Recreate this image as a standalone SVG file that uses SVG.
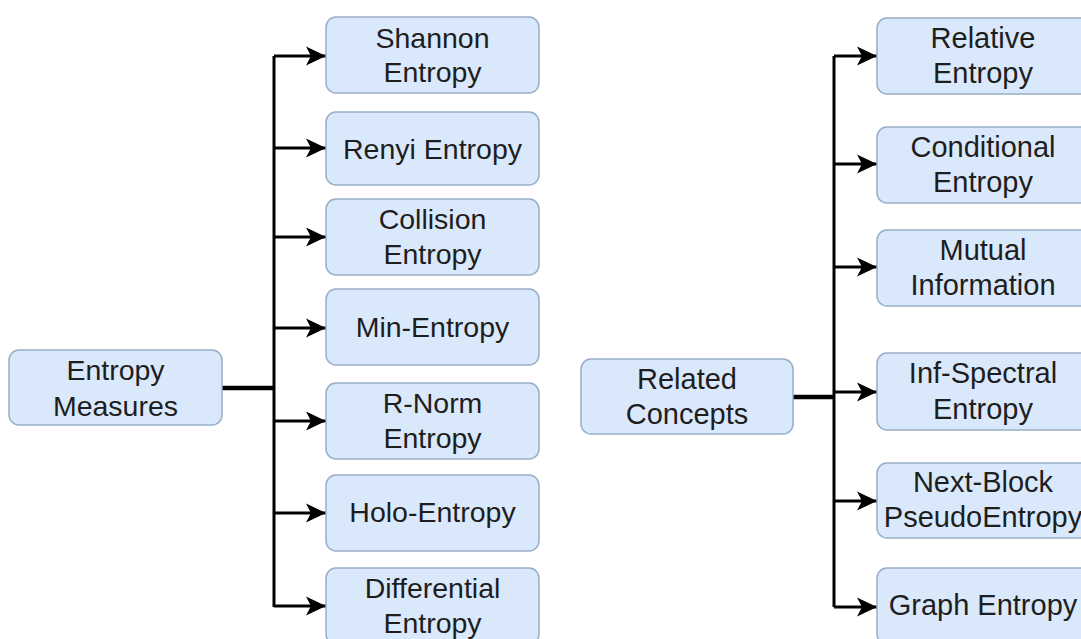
<svg xmlns="http://www.w3.org/2000/svg" width="1081" height="639" viewBox="0 0 1081 639">
<style>
.box{fill:#dae8fc;stroke:#98adc9;stroke-width:1.5}
.t{font-family:"Liberation Sans",Arial,sans-serif;font-size:28.5px;fill:#1e1e1e;text-anchor:middle}
.t2{font-family:"Liberation Sans",Arial,sans-serif;font-size:29px;fill:#1e1e1e;text-anchor:middle}
.c{fill:none;stroke:#000;stroke-width:3}
.r{fill:none;stroke:#000;stroke-width:4.5}
</style>
<defs>
<marker id="ah" markerUnits="userSpaceOnUse" markerWidth="22" markerHeight="22" viewBox="0 0 22 22" refX="20" refY="11" orient="auto">
<path d="M0,1.5 L20,11 L0,20.5 L5,11 Z" fill="#000"/>
</marker>
</defs>
<rect width="1081" height="639" fill="#fff"/>
<g id="connectors">
<path class="r" d="M222,388 H274"/>
<path class="c" d="M274,56 V607"/>
<path class="c" d="M274,56 H326" marker-end="url(#ah)"/>
<path class="c" d="M274,148 H326" marker-end="url(#ah)"/>
<path class="c" d="M274,237 H326" marker-end="url(#ah)"/>
<path class="c" d="M274,328 H326" marker-end="url(#ah)"/>
<path class="c" d="M274,421 H326" marker-end="url(#ah)"/>
<path class="c" d="M274,513 H326" marker-end="url(#ah)"/>
<path class="c" d="M274,606 H326" marker-end="url(#ah)"/>
<path class="r" d="M793,397 H834"/>
<path class="c" d="M834,56 V607"/>
<path class="c" d="M834,56 H877" marker-end="url(#ah)"/>
<path class="c" d="M834,164 H877" marker-end="url(#ah)"/>
<path class="c" d="M834,267 H877" marker-end="url(#ah)"/>
<path class="c" d="M834,392 H877" marker-end="url(#ah)"/>
<path class="c" d="M834,501 H877" marker-end="url(#ah)"/>
<path class="c" d="M834,607 H877" marker-end="url(#ah)"/>
</g>
<g id="entropy-measures"><rect class="box" x="9" y="350" width="213" height="75" rx="10"/><text class="t" x="115.5" y="380">Entropy</text><text class="t" x="115.5" y="416">Measures</text></g>
<g id="shannon"><rect class="box" x="326" y="17" width="213" height="76" rx="10"/><text class="t" x="432.5" y="48">Shannon</text><text class="t" x="432.5" y="82">Entropy</text></g>
<g id="renyi"><rect class="box" x="326" y="112" width="213" height="73" rx="10"/><text class="t" x="432.5" y="159">Renyi Entropy</text></g>
<g id="collision"><rect class="box" x="326" y="199" width="213" height="76" rx="10"/><text class="t" x="432.5" y="229">Collision</text><text class="t" x="432.5" y="264">Entropy</text></g>
<g id="min"><rect class="box" x="326" y="289" width="213" height="76" rx="10"/><text class="t" x="432.5" y="337">Min-Entropy</text></g>
<g id="rnorm"><rect class="box" x="326" y="383" width="213" height="76" rx="10"/><text class="t" x="432.5" y="413">R-Norm</text><text class="t" x="432.5" y="448">Entropy</text></g>
<g id="holo"><rect class="box" x="326" y="475" width="213" height="76" rx="10"/><text class="t" x="432.5" y="522">Holo-Entropy</text></g>
<g id="differential"><rect class="box" x="326" y="568" width="213" height="76" rx="10"/><text class="t" x="432.5" y="598">Differential</text><text class="t" x="432.5" y="633">Entropy</text></g>
<g id="related-concepts"><rect class="box" x="581" y="359" width="212" height="75" rx="10"/><text class="t2" x="687" y="389">Related</text><text class="t2" x="687" y="424">Concepts</text></g>
<g id="relative"><rect class="box" x="877" y="18" width="214" height="76" rx="10"/><text class="t2" x="983" y="48">Relative</text><text class="t2" x="983" y="83">Entropy</text></g>
<g id="conditional"><rect class="box" x="877" y="127" width="214" height="76" rx="10"/><text class="t2" x="983" y="157">Conditional</text><text class="t2" x="983" y="192">Entropy</text></g>
<g id="mutual"><rect class="box" x="877" y="230" width="214" height="76" rx="10"/><text class="t2" x="983" y="260">Mutual</text><text class="t2" x="983" y="295">Information</text></g>
<g id="infspectral"><rect class="box" x="877" y="353" width="214" height="77" rx="10"/><text class="t2" x="983" y="383">Inf-Spectral</text><text class="t2" x="983" y="419">Entropy</text></g>
<g id="nextblock"><rect class="box" x="877" y="463" width="214" height="75" rx="10"/><text class="t2" x="983" y="492">Next-Block</text><text class="t2" x="983" y="527">PseudoEntropy</text></g>
<g id="graph"><rect class="box" x="877" y="568" width="214" height="76" rx="10"/><text class="t2" x="983" y="615">Graph Entropy</text></g>
</svg>
